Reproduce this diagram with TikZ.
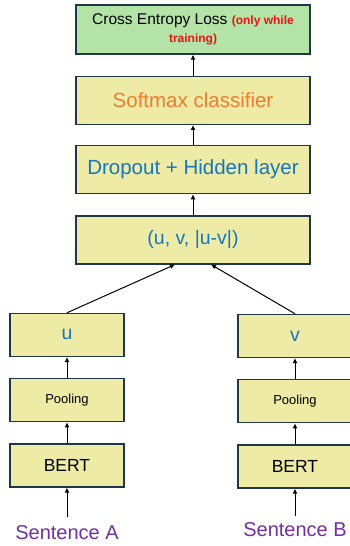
\documentclass[tikz,border=0pt]{standalone}
\usepackage{fontspec}
\setmainfont{Liberation Sans}
\usetikzlibrary{arrows.meta,positioning}

\definecolor{boxfill}{RGB}{237,235,166}
\definecolor{lossfill}{RGB}{179,227,166}
\definecolor{boxline}{RGB}{30,55,75}
\definecolor{softorange}{RGB}{237,125,49}
\definecolor{layerblue}{RGB}{22,119,190}
\definecolor{lossred}{RGB}{232,20,24}
\definecolor{sentpurple}{RGB}{112,48,160}

\begin{document}
\begin{tikzpicture}[
  node distance=21pt,
  layer/.style={rectangle,draw=boxline,fill=boxfill,line width=1.3pt,align=center,
    minimum width=234pt,minimum height=48pt,inner sep=2pt},
  encoder/.style={layer,minimum width=114pt,minimum height=43pt},
  sentence/.style={font=\fontsize{20}{24}\selectfont,text=sentpurple},
  arrow/.style={-{Latex[length=5pt,width=5pt]},line width=1pt,draw=black}
]
\useasboundingbox (0,0) rectangle (349pt,-546pt);

% shared head
\node[layer,fill=lossfill,minimum height=49pt,
  font=\fontsize{15.5}{17.5}\selectfont] (loss) at (193pt,-29.5pt)
  {Cross Entropy Loss \textcolor{lossred}{\fontsize{12}{17.5}\selectfont\bfseries(only while}\\
   \textcolor{lossred}{\fontsize{12}{17.5}\selectfont\bfseries training)}};
\node[layer,below=of loss,font=\fontsize{20.5}{24}\selectfont,text=softorange] (softmax) {Softmax classifier};
\node[layer,below=20pt of softmax,font=\fontsize{20.5}{24}\selectfont,text=layerblue] (hidden) {Dropout + Hidden layer};
\node[layer,below=of hidden,font=\fontsize{19.5}{24}\selectfont,text=layerblue] (concat) {(u, v, |u-v|)};

% left tower
\node[encoder,font=\fontsize{17.5}{21}\selectfont] (bertA) at (67pt,-465.5pt) {BERT};
\node[encoder,above=of bertA,font=\fontsize{13}{16}\selectfont] (poolA) {Pooling};
\node[encoder,above=of poolA,font=\fontsize{19.5}{24}\selectfont,text=layerblue] (u) {u};
\node[sentence] (sentA) at (67pt,-533pt) {Sentence A};

% right tower
\node[encoder,font=\fontsize{17.5}{21}\selectfont] (bertB) at (295pt,-466.5pt) {BERT};
\node[encoder,above=of bertB,font=\fontsize{13}{16}\selectfont] (poolB) {Pooling};
\node[encoder,above=of poolB,font=\fontsize{19.5}{24}\selectfont,text=layerblue] (v) {v};
\node[sentence] (sentB) at (295pt,-530pt) {Sentence B};

\draw[arrow,shorten <=5pt] (sentA) -- (bertA);
\draw[arrow] (bertA) -- (poolA);
\draw[arrow] (poolA) -- (u);
\draw[arrow,shorten <=3pt] (sentB) -- (bertB);
\draw[arrow] (bertB) -- (poolB);
\draw[arrow] (poolB) -- (v);
\draw[arrow] (u.north) -- ([xshift=-18pt]concat.south);
\draw[arrow] (v.north) -- ([xshift=18pt]concat.south);
\draw[arrow] (concat) -- (hidden);
\draw[arrow] (hidden) -- (softmax);
\draw[arrow] (softmax) -- (loss);
\end{tikzpicture}
\end{document}
